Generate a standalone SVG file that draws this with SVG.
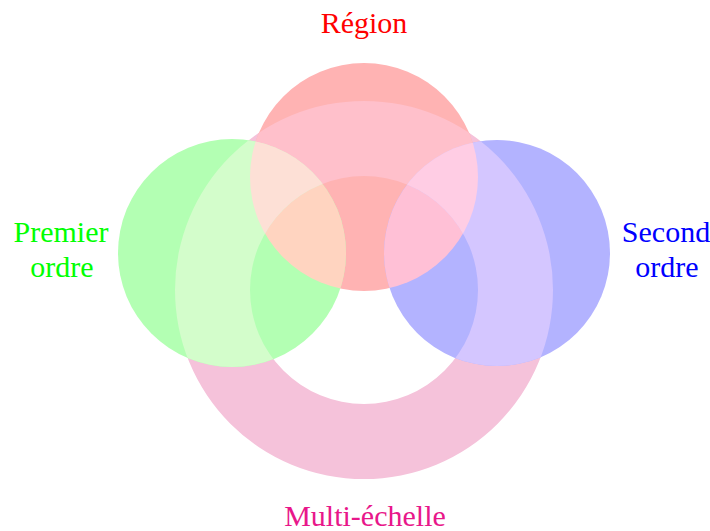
<svg xmlns="http://www.w3.org/2000/svg" width="710" height="531" viewBox="0 0 710 531">
<style>
  .lbl { font-family: "Liberation Serif", "DejaVu Serif", serif; font-size: 30px; text-anchor: middle; }
</style>
<defs>
  <path id="ringShape" fill-rule="evenodd" d="M175,290 A189,189 0 1,0 553,290 A189,189 0 1,0 175,290 Z M250,290 A114,114 0 1,0 478,290 A114,114 0 1,0 250,290 Z"/>
  <circle id="redShape" cx="364" cy="177" r="114"/>
  <circle id="greenShape" cx="232" cy="253" r="114"/>
  <circle id="blueShape" cx="497" cy="253" r="113"/>
  <clipPath id="cR"><circle cx="364" cy="177" r="114"/></clipPath>
  <clipPath id="cG"><circle cx="232" cy="253" r="114"/></clipPath>
  <clipPath id="cB"><circle cx="497" cy="253" r="113"/></clipPath>
</defs>
<rect width="710" height="531" fill="#ffffff"/>

<g id="multi-echelle">
  <use href="#ringShape" fill="#f5c2da"/>
  <text class="lbl" x="365" y="526" fill="#e8178a">Multi-échelle</text>
</g>
<g id="region">
  <use href="#redShape" fill="#ffb3b3"/>
  <text class="lbl" x="364" y="33" fill="#ff0000">Région</text>
</g>
<g id="premier-ordre">
  <use href="#greenShape" fill="#b3ffb3"/>
  <text class="lbl" x="61" y="242" fill="#00ff00">Premier</text>
  <text class="lbl" x="62" y="277" fill="#00ff00">ordre</text>
</g>
<g id="second-ordre">
  <use href="#blueShape" fill="#b3b3ff"/>
  <text class="lbl" x="666" y="242" fill="#0000ff">Second</text>
  <text class="lbl" x="667" y="277" fill="#0000ff">ordre</text>
</g>

<g id="overlaps">
  <use href="#greenShape" fill="#ffd4c0" clip-path="url(#cR)"/>
  <use href="#blueShape" fill="#ffc0d6" clip-path="url(#cR)"/>
  <use href="#ringShape" fill="#ffc0cb" clip-path="url(#cR)"/>
  <use href="#ringShape" fill="#d3fdcb" clip-path="url(#cG)"/>
  <use href="#ringShape" fill="#d4c6ff" clip-path="url(#cB)"/>
  <g clip-path="url(#cR)">
    <use href="#ringShape" fill="#fde0d6" clip-path="url(#cG)"/>
    <use href="#ringShape" fill="#ffcde4" clip-path="url(#cB)"/>
  </g>
</g>
</svg>
